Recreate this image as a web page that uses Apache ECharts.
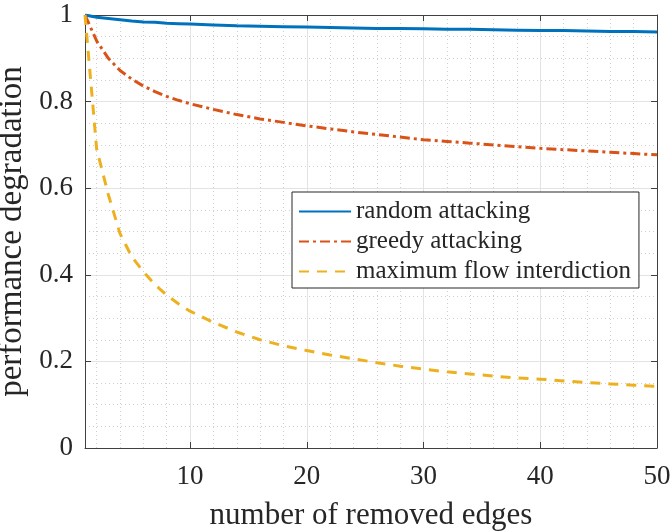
<!DOCTYPE html>
<html>
<head>
<meta charset="utf-8">
<script src="https://cdn.jsdelivr.net/npm/echarts@6/dist/echarts.min.js"></script>
<style>
  html, body { margin: 0; padding: 0; background: #fff; }
  #chart { width: 671px; height: 531px; }
</style>
</head>
<body>
<div id="chart"></div>
<script>
  // 横轴取样点（被移除的边数）
  const edgeCounts = [1, 2, 3, 4, 5, 6, 7, 8, 9, 10, 12, 14, 16, 18, 20, 22, 24, 26, 28, 30, 32, 34, 36, 38, 40, 42, 44, 46, 48, 50]
  const randomAttack = [1, 0.995, 0.992, 0.989, 0.986, 0.984, 0.983, 0.981, 0.980, 0.979, 0.977, 0.975, 0.974, 0.973, 0.972, 0.971, 0.970, 0.969, 0.969, 0.968, 0.967, 0.967, 0.966, 0.965, 0.964, 0.964, 0.963, 0.962, 0.962, 0.961]
  const greedyAttack = [1, 0.94, 0.90, 0.872, 0.852, 0.836, 0.823, 0.812, 0.803, 0.795, 0.782, 0.770, 0.760, 0.752, 0.744, 0.737, 0.730, 0.724, 0.718, 0.712, 0.708, 0.704, 0.700, 0.696, 0.692, 0.689, 0.686, 0.683, 0.680, 0.677]
  const maxFlowInterdiction = [1, 0.69, 0.585, 0.495, 0.442, 0.407, 0.377, 0.353, 0.333, 0.316, 0.290, 0.268, 0.250, 0.236, 0.225, 0.215, 0.206, 0.197, 0.189, 0.182, 0.176, 0.171, 0.166, 0.162, 0.159, 0.155, 0.151, 0.148, 0.145, 0.142]
  const seriesNames = ['random attacking', 'greedy attacking', 'maximum flow interdiction']
  const xMajorTicks = [10, 20, 30, 40, 50]
  const xMinorTicks = [2, 4, 6, 8, 12, 14, 16, 18, 22, 24, 26, 28, 32, 34, 36, 38, 42, 44, 46, 48]

  const FONT = '"Liberation Serif", "Times New Roman", serif'
  const AXIS_COLOR = '#404040'
  const TEXT_COLOR = '#262626'

  const toPairs = (ys) => edgeCounts.map((x, i) => [x, ys[i]])

  const chart = echarts.init(document.getElementById('chart'))

  const boxLine = { show: true, onZero: false, lineStyle: { color: AXIS_COLOR, width: 1 } }
  const inTick = (vals) => ({ show: true, inside: true, length: 6, customValues: vals, lineStyle: { color: AXIS_COLOR } })
  const tickRich = { t: { fontFamily: FONT, fontSize: 27, color: TEXT_COLOR } }
  const tickFormatter = (v) => '{t|' + v + '}'

  const option = {
    animation: false,
    backgroundColor: '#fff',
    textStyle: { fontFamily: FONT },
    grid: { left: 85, right: 14, top: 15, bottom: 83, containLabel: false, outerBoundsMode: 'none' },
    legend: {
      data: seriesNames,
      orient: 'vertical',
      left: 292,
      top: 192,
      padding: [7, 8, 4, 6],
      itemWidth: 52,
      itemHeight: 14,
      itemGap: 5,
      itemStyle: { opacity: 0 },
      backgroundColor: '#fff',
      borderColor: TEXT_COLOR,
      borderWidth: 1,
      borderRadius: 0,
      textStyle: { fontFamily: FONT, fontSize: 25, lineHeight: 25, color: TEXT_COLOR }
    },
    xAxis: [
      {
        type: 'value',
        min: 1,
        max: 50,
        position: 'bottom',
        name: 'number of removed edges',
        nameLocation: 'middle',
        nameGap: 52,
        nameTextStyle: { fontFamily: FONT, fontSize: 31, color: TEXT_COLOR },
        axisLine: boxLine,
        axisTick: inTick(xMajorTicks),
        axisLabel: { customValues: xMajorTicks, margin: 15, formatter: tickFormatter, rich: tickRich },
        splitLine: { show: true, lineStyle: { color: '#e3e3e3', width: 1 } }
      },
      {
        // 次网格线
        type: 'value',
        min: 1,
        max: 50,
        position: 'bottom',
        axisLine: { show: false },
        axisTick: { show: false, customValues: xMinorTicks },
        axisLabel: { show: false, customValues: xMinorTicks },
        splitLine: { show: true, lineStyle: { color: '#cfcfcf', width: 1, type: [1, 3] } }
      },
      {
        type: 'value',
        min: 1,
        max: 50,
        position: 'top',
        axisLine: boxLine,
        axisTick: inTick(xMajorTicks),
        axisLabel: { show: false },
        splitLine: { show: false }
      }
    ],
    yAxis: [
      {
        type: 'value',
        min: 0,
        max: 1,
        interval: 0.2,
        position: 'left',
        name: 'performance degradation',
        nameLocation: 'middle',
        nameGap: 43,
        nameTextStyle: { fontFamily: FONT, fontSize: 33, color: TEXT_COLOR },
        axisLine: boxLine,
        axisTick: { show: true, inside: true, length: 6, lineStyle: { color: AXIS_COLOR } },
        axisLabel: { margin: 12, formatter: tickFormatter, rich: tickRich },
        splitLine: { show: true, lineStyle: { color: '#e3e3e3', width: 1 } },
        minorTick: { show: false, splitNumber: 4 },
        minorSplitLine: { show: true, lineStyle: { color: '#cfcfcf', width: 1, type: [1, 3] } }
      },
      {
        type: 'value',
        min: 0,
        max: 1,
        interval: 0.2,
        position: 'right',
        axisLine: boxLine,
        axisTick: { show: true, inside: true, length: 6, lineStyle: { color: AXIS_COLOR } },
        axisLabel: { show: false },
        splitLine: { show: false }
      }
    ],
    series: [
      {
        name: seriesNames[0],
        type: 'line',
        symbol: 'none',
        data: toPairs(randomAttack),
        lineStyle: { color: '#0072BD', width: 3 },
        itemStyle: { color: '#0072BD' }
      },
      {
        name: seriesNames[1],
        type: 'line',
        symbol: 'none',
        data: toPairs(greedyAttack),
        lineStyle: { color: '#D95319', width: 3, type: [10, 4, 3, 4] },
        itemStyle: { color: '#D95319' }
      },
      {
        name: seriesNames[2],
        type: 'line',
        symbol: 'none',
        data: toPairs(maxFlowInterdiction),
        lineStyle: { color: '#EDB120', width: 3, type: [10, 8] },
        itemStyle: { color: '#EDB120' }
      }
    ]
  }

  chart.setOption(option)
</script>
</body>
</html>
